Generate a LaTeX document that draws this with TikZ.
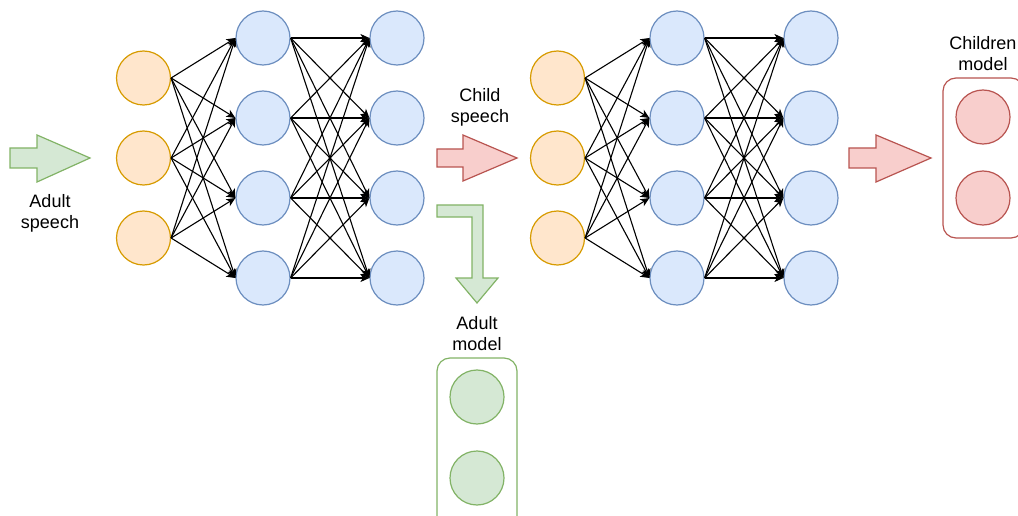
\documentclass[tikz,border=0pt]{standalone}
\usepackage{fontspec}
\setmainfont{Liberation Sans}
\usetikzlibrary{arrows.meta}

\definecolor{orFill}{HTML}{FFE6CC}
\definecolor{orLine}{HTML}{D79B00}
\definecolor{blFill}{HTML}{DAE8FC}
\definecolor{blLine}{HTML}{6C8EBF}
\definecolor{gnFill}{HTML}{D5E8D4}
\definecolor{gnLine}{HTML}{82B366}
\definecolor{rdFill}{HTML}{F8CECC}
\definecolor{rdLine}{HTML}{B85450}

\begin{document}
\begin{tikzpicture}[x=1pt,y=-1pt,
  neuron/.style={circle,minimum size=54pt,inner sep=0pt,line width=1.2pt},
  inunit/.style={neuron,fill=orFill,draw=orLine},
  hidunit/.style={neuron,fill=blFill,draw=blLine},
  adultunit/.style={neuron,fill=gnFill,draw=gnLine},
  childunit/.style={neuron,fill=rdFill,draw=rdLine},
  syn/.style={-{Stealth[length=9pt,width=8pt,inset=2.5pt]},line width=1.1pt,black},
  lbl/.style={align=center,inner sep=0pt,text=black,font=\fontsize{18}{21}\selectfont},
  greenblock/.style={fill=gnFill,draw=gnLine,line width=1.2pt,line join=miter},
  redblock/.style={fill=rdFill,draw=rdLine,line width=1.2pt,line join=miter},
  modelbox/.style={rounded corners=13pt,line width=1.2pt,fill=white}
]
\useasboundingbox (0,0) rectangle (1018,516);
\clip (0,0) rectangle (1018,516);

% two identical networks: input layer, hidden layer, output layer
\foreach \net/\dx in {A/0,B/414}{
  \foreach \i/\y in {1/78,2/158,3/238}
    \node[inunit] (\net-in-\i) at (143.5+\dx,\y) {};
  \foreach \j/\y in {1/38,2/118,3/198,4/278}{
    \node[hidunit] (\net-h-\j) at (263+\dx,\y) {};
    \node[hidunit] (\net-o-\j) at (397+\dx,\y) {};
  }
  \foreach \i in {1,2,3}
    \foreach \j in {1,2,3,4}
      \draw[syn] (\net-in-\i.east) -- (\net-h-\j.west);
  \foreach \i in {1,2,3,4}
    \foreach \j in {1,2,3,4}
      \draw[syn] (\net-h-\i.east) -- (\net-o-\j.west);
}

% block arrows
\draw[greenblock] (10,148) -- (37,148) -- (37,135) -- (90,158) -- (37,182) -- (37,168) -- (10,168) -- cycle;
\draw[redblock] (437,149) -- (463,149) -- (463,135) -- (517,158) -- (463,181) -- (463,167) -- (437,167) -- cycle;
\draw[redblock] (849,148) -- (876,148) -- (876,135) -- (931,158) -- (876,182) -- (876,168) -- (849,168) -- cycle;
\draw[greenblock] (437,205) -- (483,205) -- (483,278) -- (498,278) -- (477,303) -- (456,278) -- (472,278) -- (472,217) -- (437,217) -- cycle;

% labels
\node[lbl] (adultSpeech) at (50,213) {Adult\\speech};
\node[lbl] (childSpeech) at (480,107) {Child\\speech};
\node[lbl] (adultModelLbl) at (477,334) {Adult\\model};
\node[lbl] (childModelLbl) at (983,54) {Children\\model};

% resulting models
\draw[modelbox,draw=gnLine] (437,358) rectangle (517,532);
\node[adultunit] (adult-1) at (477,397) {};
\node[adultunit] (adult-2) at (477,478) {};

\draw[modelbox,draw=rdLine] (943,78) rectangle (1024,238);
\node[childunit] (child-1) at (983,117) {};
\node[childunit] (child-2) at (983,198) {};
\end{tikzpicture}
\end{document}
